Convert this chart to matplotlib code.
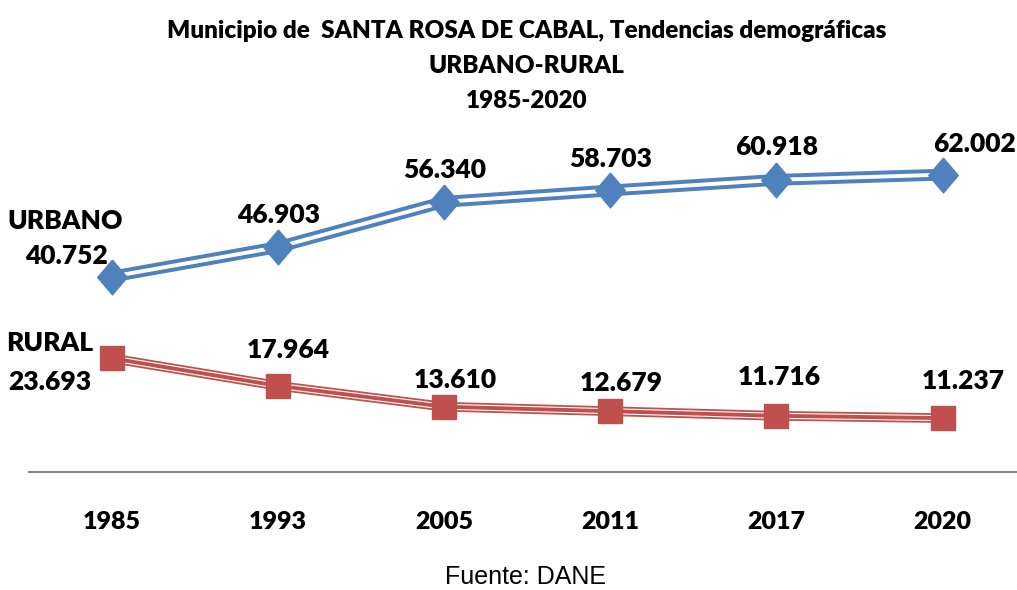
import matplotlib
matplotlib.use("Agg")
import matplotlib.pyplot as plt

years = ["1985", "1993", "2005", "2011", "2017", "2020"]
urbano = [40.752, 46.903, 56.340, 58.703, 60.918, 62.002]
rural = [23.693, 17.964, 13.610, 12.679, 11.716, 11.237]
urbano_labels = ["40.752", "46.903", "56.340", "58.703", "60.918", "62.002"]
rural_labels = ["23.693", "17.964", "13.610", "12.679", "11.716", "11.237"]

BLUE = "#4F81BD"
RED = "#C0504D"
FONT = "Lato"

# label offsets in points (dx, dy) from each marker
urb_off = [(-33, 15), (0, 23), (0, 23), (0, 23), (0, 24), (23, 22)]
rur_off = [(-45, -17), (7, 26), (8, 19), (8, 20), (2, 28), (15, 27)]

fig = plt.figure(figsize=(10.17, 5.90), dpi=100)
ax = fig.add_axes([0.0285, 0.2, 0.98, 0.569])
x = list(range(len(years)))

diamond = [(0, 1), (0.85, 0), (0, -1), (-0.85, 0), (0, 1)]

# urbano: double line
ax.plot(x, urbano, color=BLUE, lw=8.5, solid_capstyle="butt", zorder=2)
ax.plot(x, urbano, color="white", lw=2.8, solid_capstyle="butt", zorder=3)
ax.plot(x, urbano, ls="none", marker=diamond, ms=25, color=BLUE, zorder=4)

# rural: triple line
ax.plot(x, rural, color=RED, lw=7, solid_capstyle="butt", zorder=2)
ax.plot(x, rural, color="white", lw=4.4, solid_capstyle="butt", zorder=3)
ax.plot(x, rural, color=RED, lw=2.8, solid_capstyle="butt", zorder=3)
ax.plot(x, rural, ls="none", marker="s", ms=17, color=RED, zorder=4)

lab_kw = dict(fontsize=19, fontweight="heavy", family=FONT, ha="center", va="center",
              textcoords="offset points", color="black")
for i, (v, t) in enumerate(zip(urbano, urbano_labels)):
    ax.annotate(t, (i, v), xytext=urb_off[i], **lab_kw)
for i, (v, t) in enumerate(zip(rural, rural_labels)):
    ax.annotate(t, (i, v), xytext=rur_off[i], **lab_kw)

ax.annotate("URBANO", (0, urbano[0]), xytext=(-34, 40), **lab_kw)
ax.annotate("RURAL", (0, rural[0]), xytext=(-45, 11), **lab_kw)

ax.set_xlim(-0.5, len(years) - 0.5)
ax.set_ylim(0, 70)
ax.set_xticks(x)
ax.set_xticklabels(years, fontsize=18, fontweight="heavy", family=FONT)
ax.tick_params(axis="x", length=0, pad=28)
ax.set_yticks([])
for s in ["top", "left", "right"]:
    ax.spines[s].set_visible(False)
ax.spines["bottom"].set_color("#868686")
ax.spines["bottom"].set_linewidth(1.5)

title_kw = dict(ha="center", va="center", fontsize=17.5, fontweight="heavy", family=FONT)
fig.text(0.518, 0.947, "Municipio de  SANTA ROSA DE CABAL, Tendencias demográficas", **title_kw)
fig.text(0.518, 0.888, "URBANO-RURAL", **title_kw)
fig.text(0.518, 0.829, "1985-2020", **title_kw)
fig.text(0.517, 0.022, "Fuente: DANE", ha="center", va="center",
         fontsize=18, family="Liberation Sans")

fig.savefig("out.png", dpi=100)
